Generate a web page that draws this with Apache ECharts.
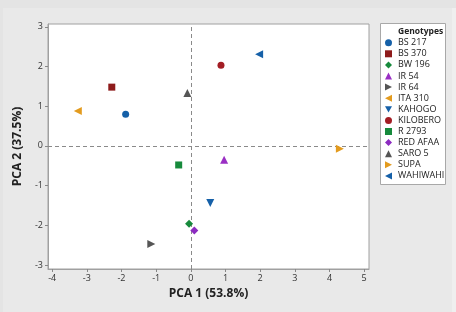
<!DOCTYPE html>
<html><head><meta charset="utf-8">
<script src="https://cdn.jsdelivr.net/npm/echarts@6/dist/echarts.min.js"></script>
<style>html,body{margin:0;padding:0;background:#e4e4e4}#c{width:456px;height:312px}</style>
</head><body><div id="c"></div>
<script>
const genotypes = ['BS 217','BS 370','BW 196','IR 54','IR 64','ITA 310','KAHOGO','KILOBERO','R 2793','RED AFAA','SARO 5','SUPA','WAHIWAHI'];
const pca1 = [-1.88, -2.28, -0.05, 0.96, -1.14, -3.26, 0.56, 0.87, -0.35, 0.10, -0.10, 4.30, 1.97];
const pca2 = [0.80, 1.48, -1.96, -0.35, -2.47, 0.88, -1.44, 2.03, -0.48, -2.13, 1.33, -0.07, 2.31];
const colors = ['#1560a8','#8e1b1b','#178a3c','#9a2fc4','#555555','#e39b1e','#1560a8','#a31d24','#178a3c','#8c2bc0','#555555','#e39b1e','#1560a8'];
const LEFT = 'path://M0,5L10,0L10,10Z', RIGHT = 'path://M10,5L0,0L0,10Z', DOWN = 'path://M0,0L10,0L5,9Z';
const symbols = ['circle','rect','diamond','triangle',RIGHT,LEFT,DOWN,'circle','rect','diamond','triangle',RIGHT,LEFT];
const xTicks = [-4,-3,-2,-1,0,1,2,3,4,5];
const yTicks = [-3,-2,-1,0,1,2,3];

const FONT = 'Open Sans';
const chart = echarts.init(document.getElementById('c'), null, {renderer:'canvas'});
const series = genotypes.map((g,i)=>({
  name: g, type: 'scatter', symbol: symbols[i],
  symbolSize: (symbols[i]==='circle'||symbols[i]==='rect') ? 7 : 8,
  itemStyle: {color: colors[i], opacity: 1},
  data: [[pca1[i], pca2[i]]],
  z: 5
}));
series.push({
  type:'line', data:[], silent:true,
  markLine:{symbol:'none', silent:true, label:{show:false},
    lineStyle:{color:'#8a8a8a', type:[4,3], width:1},
    data:[{xAxis:0},{yAxis:0}]}
});
chart.setOption({
  animation:false,
  backgroundColor:'#e4e4e4',
  graphic:[
    {type:'rect', z:-100, shape:{x:3,y:8,width:449,height:304}, style:{fill:'#e9e9e9'}},
    {type:'rect', z:-100, shape:{x:452,y:8,width:4,height:304}, style:{fill:'#efefef'}},
    {type:'rect', z:-90, shape:{x:380.5,y:23.5,width:65,height:161}, style:{fill:'#ffffff', stroke:'#a8a8a8', lineWidth:1}},
    {type:'text', z:-80, x:398, y:32, style:{text:'Genotypes', font:'bold 8.5px "Open Sans"', fill:'#222', verticalAlign:'middle'}}
  ],
  grid:{left:48, right:87, top:24, bottom:43, show:true, backgroundColor:'#ffffff', borderColor:'#a0a0a0', borderWidth:1},
  legend:{
    data: genotypes, orient:'vertical', left:385, top:37.2, padding:0,
    itemWidth:7, itemHeight:7, itemGap:0.1,
    textStyle:{fontFamily:FONT, fontSize:9, color:'#222', lineHeight:11.0, padding:[0,0,0,1]}
  },
  xAxis:{type:'value', min:-4.12, max:5.14,
    name:'PCA 1 (53.8%)', nameLocation:'middle', nameGap:17,
    nameTextStyle:{fontFamily:FONT, fontWeight:'bold', fontSize:12, color:'#222'},
    axisLine:{show:true, onZero:false, lineStyle:{color:'#a0a0a0'}},
    axisTick:{show:true, length:3, lineStyle:{color:'#888'}, customValues:xTicks},
    axisLabel:{fontFamily:FONT, fontSize:9, color:'#333', margin:5, customValues:xTicks},
    splitLine:{show:false}},
  yAxis:{type:'value', min:-3.1, max:3.07,
    name:'PCA 2 (37.5%)', nameLocation:'middle', nameGap:20,
    nameTextStyle:{fontFamily:FONT, fontWeight:'bold', fontSize:12, color:'#222'},
    axisLine:{show:true, onZero:false, lineStyle:{color:'#a0a0a0'}},
    axisTick:{show:true, length:3, lineStyle:{color:'#888'}, customValues:yTicks},
    axisLabel:{fontFamily:FONT, fontSize:9, color:'#333', margin:5, customValues:yTicks},
    splitLine:{show:false}},
  series: series
});
</script></body></html>
